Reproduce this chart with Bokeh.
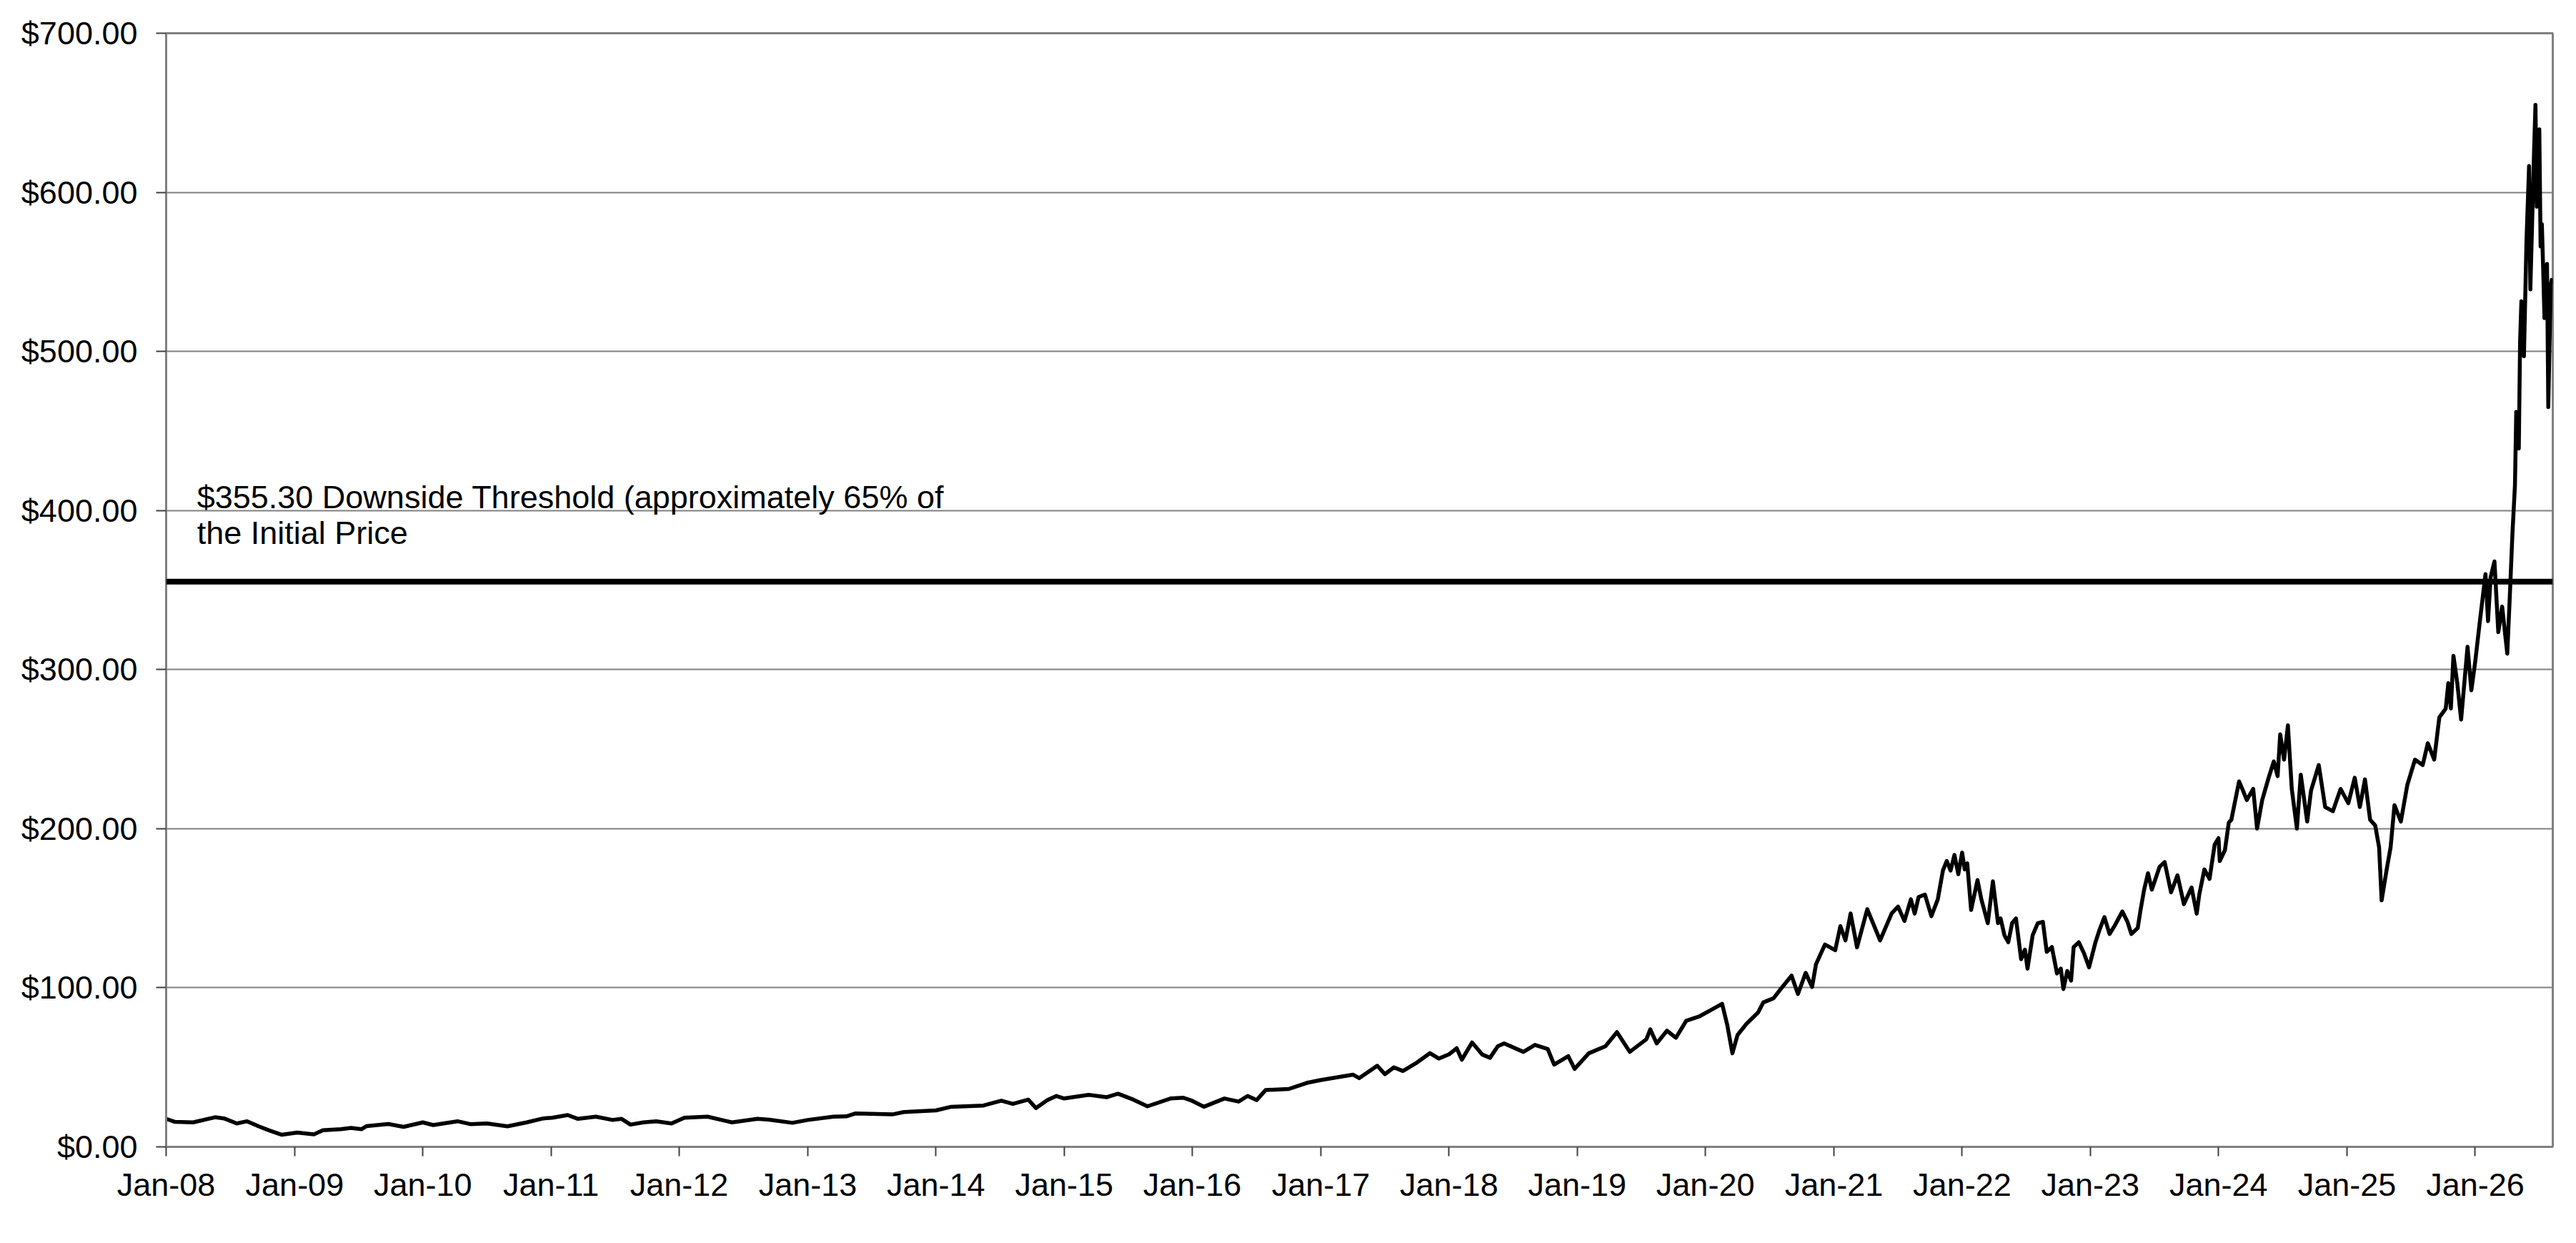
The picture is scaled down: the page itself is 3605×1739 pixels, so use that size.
from datetime import datetime
from bokeh.plotting import figure
from bokeh.models import (Range1d, FixedTicker, NumeralTickFormatter, DatetimeTickFormatter,
                          Span, Label, ColumnDataSource)
from bokeh.embed import file_html
from bokeh.resources import INLINE

# ---------------- data ----------------
t_years = [
    2008.00, 2008.07, 2008.21, 2008.38, 2008.45, 2008.55, 2008.63, 2008.72, 2008.80, 2008.90,
    2009.02, 2009.15, 2009.22, 2009.36, 2009.44, 2009.52, 2009.56, 2009.73, 2009.85,
    2010.00, 2010.08, 2010.27, 2010.37, 2010.50, 2010.66, 2010.81, 2010.94,
    2011.01, 2011.13, 2011.21, 2011.35, 2011.48, 2011.55, 2011.62, 2011.72, 2011.82, 2011.94,
    2012.04, 2012.22, 2012.41, 2012.61, 2012.70, 2012.88,
    2013.00, 2013.20, 2013.30, 2013.37, 2013.66, 2013.75,
    2014.00, 2014.12, 2014.37, 2014.51, 2014.60, 2014.72, 2014.78, 2014.87, 2014.94,
    2015.00, 2015.19, 2015.33, 2015.42, 2015.54, 2015.65, 2015.83, 2015.93,
    2016.00, 2016.09, 2016.25, 2016.36, 2016.43, 2016.50, 2016.57, 2016.75, 2016.89,
    2017.00, 2017.25, 2017.30, 2017.44, 2017.50, 2017.57, 2017.64, 2017.74, 2017.85, 2017.92,
    2018.00, 2018.06, 2018.10, 2018.18, 2018.26, 2018.32, 2018.38, 2018.43, 2018.58, 2018.67,
    2018.77, 2018.82, 2018.93, 2018.98,
    2019.09, 2019.22, 2019.31, 2019.41, 2019.54, 2019.57, 2019.62, 2019.70, 2019.77, 2019.85, 2019.95,
    2020.05, 2020.13, 2020.17, 2020.21, 2020.25, 2020.32, 2020.41, 2020.45, 2020.53, 2020.59,
    2020.67, 2020.72, 2020.78, 2020.83, 2020.86, 2020.93,
    2021.01, 2021.05, 2021.09, 2021.13, 2021.18, 2021.26, 2021.36, 2021.45, 2021.50, 2021.55,
    2021.60, 2021.63, 2021.66, 2021.71, 2021.76, 2021.81, 2021.85, 2021.88, 2021.91, 2021.94, 2021.97,
    2022.00, 2022.02, 2022.04, 2022.07, 2022.12, 2022.15, 2022.20, 2022.24, 2022.28, 2022.30,
    2022.33, 2022.36, 2022.39, 2022.42, 2022.46, 2022.49, 2022.51, 2022.55, 2022.59, 2022.63,
    2022.66, 2022.70, 2022.74, 2022.77, 2022.79, 2022.82, 2022.85, 2022.87, 2022.91, 2022.95, 2022.99,
    2023.04, 2023.07, 2023.11, 2023.15, 2023.19, 2023.25, 2023.29, 2023.32, 2023.37, 2023.39,
    2023.42, 2023.45, 2023.48, 2023.54, 2023.58, 2023.63, 2023.68, 2023.73, 2023.79, 2023.83,
    2023.85, 2023.89, 2023.93, 2023.97,
    2024.00, 2024.01, 2024.05, 2024.08, 2024.10, 2024.16, 2024.19, 2024.22, 2024.27, 2024.30,
    2024.34, 2024.39, 2024.43, 2024.46, 2024.48, 2024.51, 2024.54, 2024.57, 2024.61, 2024.64,
    2024.69, 2024.72, 2024.78, 2024.83, 2024.89, 2024.95,
    2025.01, 2025.06, 2025.10, 2025.14, 2025.18, 2025.22, 2025.25, 2025.27, 2025.31, 2025.34,
    2025.37, 2025.42, 2025.47, 2025.53, 2025.59, 2025.63, 2025.68, 2025.72, 2025.77, 2025.79,
    2025.81, 2025.83, 2025.86, 2025.89, 2025.94, 2025.97,
    2026.00, 2026.03, 2026.06, 2026.08, 2026.10, 2026.12, 2026.15, 2026.18, 2026.21, 2026.25,
    2026.27, 2026.29, 2026.31, 2026.32, 2026.34, 2026.35, 2026.36, 2026.38, 2026.40, 2026.42,
    2026.43, 2026.46, 2026.47, 2026.48, 2026.50, 2026.51, 2026.52, 2026.53, 2026.54, 2026.56,
    2026.57, 2026.58, 2026.59, 2026.60,
]
prices = [
    17.6, 15.7, 15.4, 18.6, 17.9, 14.7, 16.1, 12.9, 10.4, 7.6,
    9.0, 7.9, 10.4, 11.1, 11.9, 11.1, 13.0, 14.4, 12.6,
    15.4, 13.7, 16.1, 14.3, 14.7, 12.9, 15.4, 17.9,
    18.3, 20.0, 17.6, 19.0, 16.9, 17.6, 14.0, 15.4, 16.1, 14.7,
    18.3, 19.0, 15.4, 17.6, 17.1, 15.1,
    16.9, 19.0, 19.2, 21.0, 20.4, 21.9,
    22.9, 25.2, 26.0, 29.0, 27.0, 29.7, 24.4, 29.4, 32.0,
    30.4, 32.7, 31.2, 33.4, 29.7, 25.5, 30.4, 30.9,
    28.9, 25.2, 30.4, 28.5, 32.0, 29.4, 35.7, 36.4, 40.2,
    42.0, 45.4, 43.2, 51.0, 45.7, 50.0, 47.7, 52.5, 58.9, 55.5,
    58.2, 62.0, 54.8, 65.6, 58.0, 56.0, 63.2, 65.0, 59.7, 64.1,
    61.5, 51.7, 57.0, 49.0,
    58.8, 63.2, 72.1, 59.7, 67.7, 73.9, 65.0, 73.0, 68.6, 79.2, 81.9,
    86.3, 89.9, 76.6, 58.8, 70.3, 77.4, 84.5, 90.8, 93.4, 99.6,
    107.6, 96.1, 109.4, 100.5, 114.7, 127.2,
    123.6, 138.7, 129.8, 146.7, 125.4, 149.4, 129.8, 146.7, 151.0, 142.0,
    155.6, 146.6, 157.0, 158.6, 145.0, 155.6, 173.7, 179.7, 173.7, 183.5, 171.4,
    185.0, 174.4, 178.2, 148.9, 167.7, 155.6, 140.6, 166.9, 140.6, 143.6,
    133.0, 128.6, 140.6, 143.6, 118.0, 124.0, 112.0, 133.0, 140.6, 141.4,
    122.6, 125.6, 109.0, 112.0, 99.2, 110.5, 104.5, 125.6, 128.6, 121.8, 112.8,
    128.6, 136.0, 144.4, 133.8, 139.0, 148.0, 141.4, 133.8, 137.6, 148.0,
    161.7, 172.0, 161.7, 176.0, 179.0, 160.0, 170.7, 152.6, 163.0, 146.6,
    158.6, 174.4, 168.4, 190.0,
    194.0, 179.7, 186.5, 203.8, 205.6, 229.7, 224.0, 218.0, 225.0, 200.0,
    218.0, 232.0, 242.3, 233.0, 259.4, 243.4, 265.0, 225.0, 200.0, 234.0,
    204.5, 224.0, 240.0, 213.6, 211.0, 225.0,
    216.0, 232.0, 213.6, 231.0, 205.6, 202.0, 188.4, 155.0, 174.7, 188.4,
    214.8, 204.5, 227.4, 243.4, 240.0, 253.7, 243.4, 270.0, 275.5, 291.5,
    275.5, 308.7, 291.5, 268.6, 314.4, 287.0,
    305.0, 326.0, 346.5, 360.0, 330.5, 358.0, 368.0, 323.6, 339.6, 310.0,
    346.5, 385.0, 416.0, 462.0, 439.0, 506.0, 531.5, 497.0, 570.0, 616.5,
    539.0, 629.0, 655.0, 591.0, 639.6, 566.0, 580.0, 552.0, 521.0, 555.0,
    465.0, 506.0, 542.0, 546.0,
]
threshold = 355.30
y_ticks = [0, 100, 200, 300, 400, 500, 600, 700]
x_tick_years = list(range(2008, 2027))
note_lines = ["$355.30 Downside Threshold (approximately 65% of", "the Initial Price"]

FONT = "Liberation Sans"


def dec_to_dt(t):
    y = int(t)
    start = datetime(y, 1, 1)
    end = datetime(y + 1, 1, 1)
    return start + (end - start) * (t - y)


dates = [dec_to_dt(t) for t in t_years]
src = ColumnDataSource(data=dict(date=dates, price=prices))

p = figure(
    x_axis_type="datetime",
    frame_width=3340, frame_height=1558,
    min_border_left=232, min_border_right=17, min_border_top=46, min_border_bottom=119,
    x_range=Range1d(datetime(2008, 1, 1), dec_to_dt(2026.605)),
    y_range=Range1d(0, 700),
    output_backend="svg", toolbar_location=None,
    background_fill_color="white", border_fill_color="white",
)

# axes styling
p.outline_line_color = "#808080"
p.outline_line_width = 3

p.yaxis.ticker = FixedTicker(ticks=y_ticks)
p.yaxis.formatter = NumeralTickFormatter(format="$0.00")
epoch = datetime(1970, 1, 1)
p.xaxis.ticker = FixedTicker(ticks=[(datetime(y, 1, 1) - epoch).total_seconds() * 1000 for y in x_tick_years])
fmt = "%b-%y"
p.xaxis.formatter = DatetimeTickFormatter(
    milliseconds=fmt, seconds=fmt, minsec=fmt, minutes=fmt, hourmin=fmt, hours=fmt,
    days=fmt, months=fmt, years=fmt)

for ax in (p.xaxis, p.yaxis):
    ax.axis_line_color = "#808080"
    ax.axis_line_width = 3
    ax.major_tick_line_color = "#404040"
    ax.major_tick_line_width = 2
    ax.major_tick_in = 0
    ax.minor_tick_line_color = None
    ax.major_label_text_font = FONT
    ax.major_label_text_font_size = "45px"
    ax.major_label_text_color = "black"
p.yaxis.major_tick_out = 14
p.yaxis.major_label_standoff = 26
p.xaxis.major_tick_out = 13
p.xaxis.major_label_standoff = 14

p.xgrid.grid_line_color = None
p.ygrid.grid_line_color = "#808080"
p.ygrid.grid_line_width = 2

# threshold line
p.add_layout(Span(location=threshold, dimension="width", line_color="black", line_width=8))

# price line
p.line("date", "price", source=src, line_color="black", line_width=5.5, line_join="round")

# annotation text
p.add_layout(Label(x=dec_to_dt(2008.24), y=408.4, text=note_lines[0], text_font=FONT,
                   text_font_size="45px", text_color="black", text_baseline="alphabetic"))
p.add_layout(Label(x=dec_to_dt(2008.24), y=386.0, text=note_lines[1], text_font=FONT,
                   text_font_size="45px", text_color="black", text_baseline="alphabetic"))

open("out.html", "w").write(file_html(p, INLINE))
